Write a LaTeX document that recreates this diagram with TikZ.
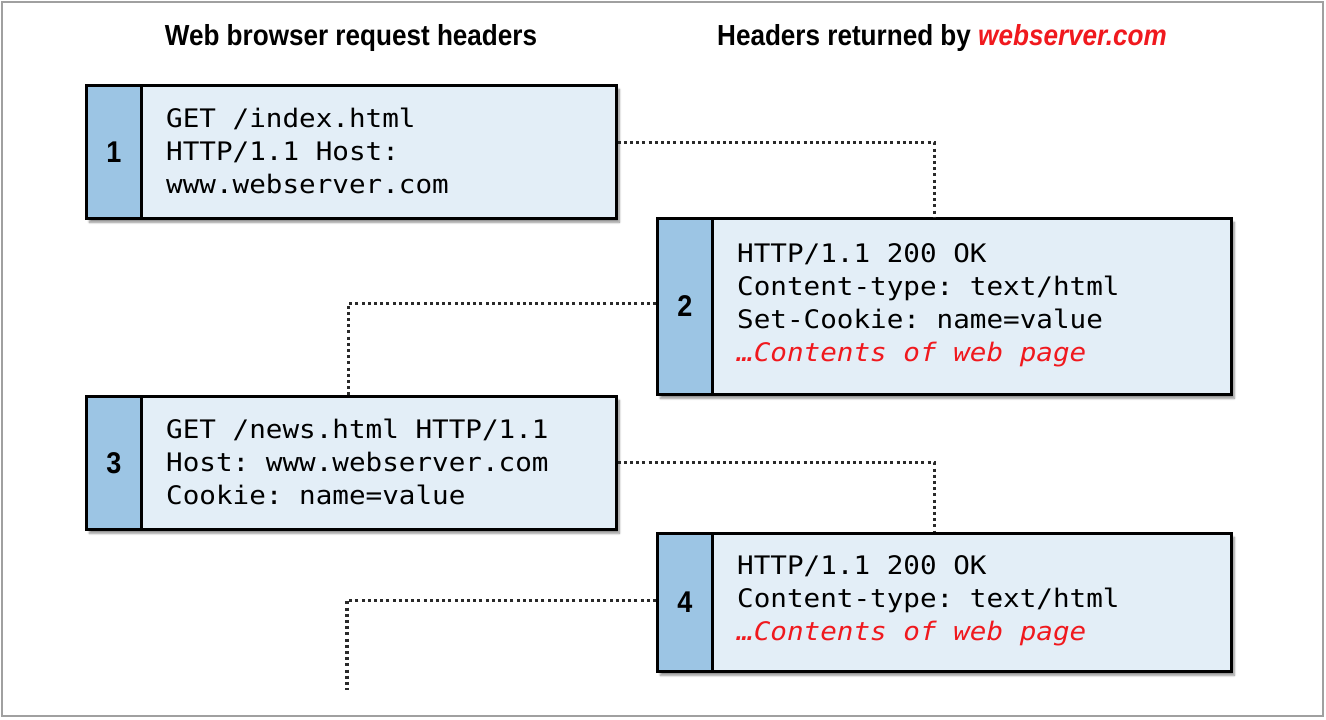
\documentclass[tikz,border=0pt]{standalone}
\usepackage{fontspec}
\setmainfont{Liberation Sans}
\newfontfamily\monofont[FakeStretch=1.083]{DejaVu Sans Mono}
\newfontfamily\headfont[FakeStretch=0.9]{Liberation Sans}
\usetikzlibrary{shadows.blur}
\definecolor{boxfill}{HTML}{E3EEF7}
\definecolor{stripfill}{HTML}{9CC5E4}
\definecolor{hred}{HTML}{F0191E}
\definecolor{framegray}{HTML}{A0A0A0}
\definecolor{dotgray}{HTML}{2A2A2A}
\begin{document}
\begin{tikzpicture}[x=1pt,y=-1pt,
  bodybox/.style={draw=black, line width=2.6pt, fill=boxfill, anchor=north west, inner sep=0pt,
    blur shadow={shadow xshift=3pt, shadow yshift=-4pt, shadow blur steps=6, shadow opacity=45}},
  stripbox/.style={draw=black, line width=2.6pt, fill=stripfill, anchor=north west, inner sep=0pt, minimum width=55pt},
  numlabel/.style={font=\headfont\bfseries\fontsize{30}{32}\selectfont, inner sep=0pt},
  monotext/.style={font=\monofont\fontsize{25.5}{33}\selectfont\frenchspacing, align=left, anchor=west, inner sep=0pt},
  headtitle/.style={font=\headfont\bfseries\fontsize{29}{32}\selectfont, inner sep=0pt},
  dotline/.style={draw=dotgray, line width=3.2pt, dash pattern=on 3pt off 3.2pt}]
\useasboundingbox (0,0) rectangle (1326,720);
\draw[framegray, line width=2pt] (2,2) rectangle (1323,716);

\node[headtitle] (h1) at (351,38) {Web browser request headers};
\node[headtitle] (h2) at (942,38) {Headers returned by \textcolor{hred}{\itshape webserver.com}};

% box 1
\node[bodybox, minimum width=530pt, minimum height=133pt] (b1) at (85,84) {};
\node[stripbox, minimum height=133pt] (s1) at (85,84) {};
\node[numlabel] (n1) at (s1.center) {1};
\node[monotext] (t1) at (166,150.5) {GET /index.html\\HTTP/1.1 Host:\\www.webserver.com};

% box 2
\node[bodybox, minimum width=574pt, minimum height=176pt] (b2) at (656,217) {};
\node[stripbox, minimum height=176pt] (s2) at (656,217) {};
\node[numlabel] (n2) at (s2.center) {2};
\node[monotext] (t2) at (737,305) {HTTP/1.1 200 OK\\Content-type: text/html\\Set-Cookie: name=value\\\textcolor{hred}{\itshape …Contents of web page}};

% box 3
\node[bodybox, minimum width=530pt, minimum height=133pt] (b3) at (85,395) {};
\node[stripbox, minimum height=133pt] (s3) at (85,395) {};
\node[numlabel] (n3) at (s3.center) {3};
\node[monotext] (t3) at (166,461.5) {GET /news.html HTTP/1.1\\Host: www.webserver.com\\Cookie: name=value};

% box 4
\node[bodybox, minimum width=574pt, minimum height=138pt] (b4) at (656,532) {};
\node[stripbox, minimum height=138pt] (s4) at (656,532) {};
\node[numlabel] (n4) at (s4.center) {4};
\node[monotext] (t4) at (737,601) {HTTP/1.1 200 OK\\Content-type: text/html\\\textcolor{hred}{\itshape …Contents of web page}};

\coordinate (tail) at (347,690);

\draw[dotline] ([yshift=9pt]b1.east) -| ([xshift=-10pt]b2.north);
\draw[dotline] ([yshift=3pt]b2.west) -| ([xshift=-3pt]b3.north);
\draw[dotline] (b3.east) -| ([xshift=-10pt]b4.north);
\draw[dotline] ([yshift=2pt]b4.west) -| (tail);
\end{tikzpicture}
\end{document}
